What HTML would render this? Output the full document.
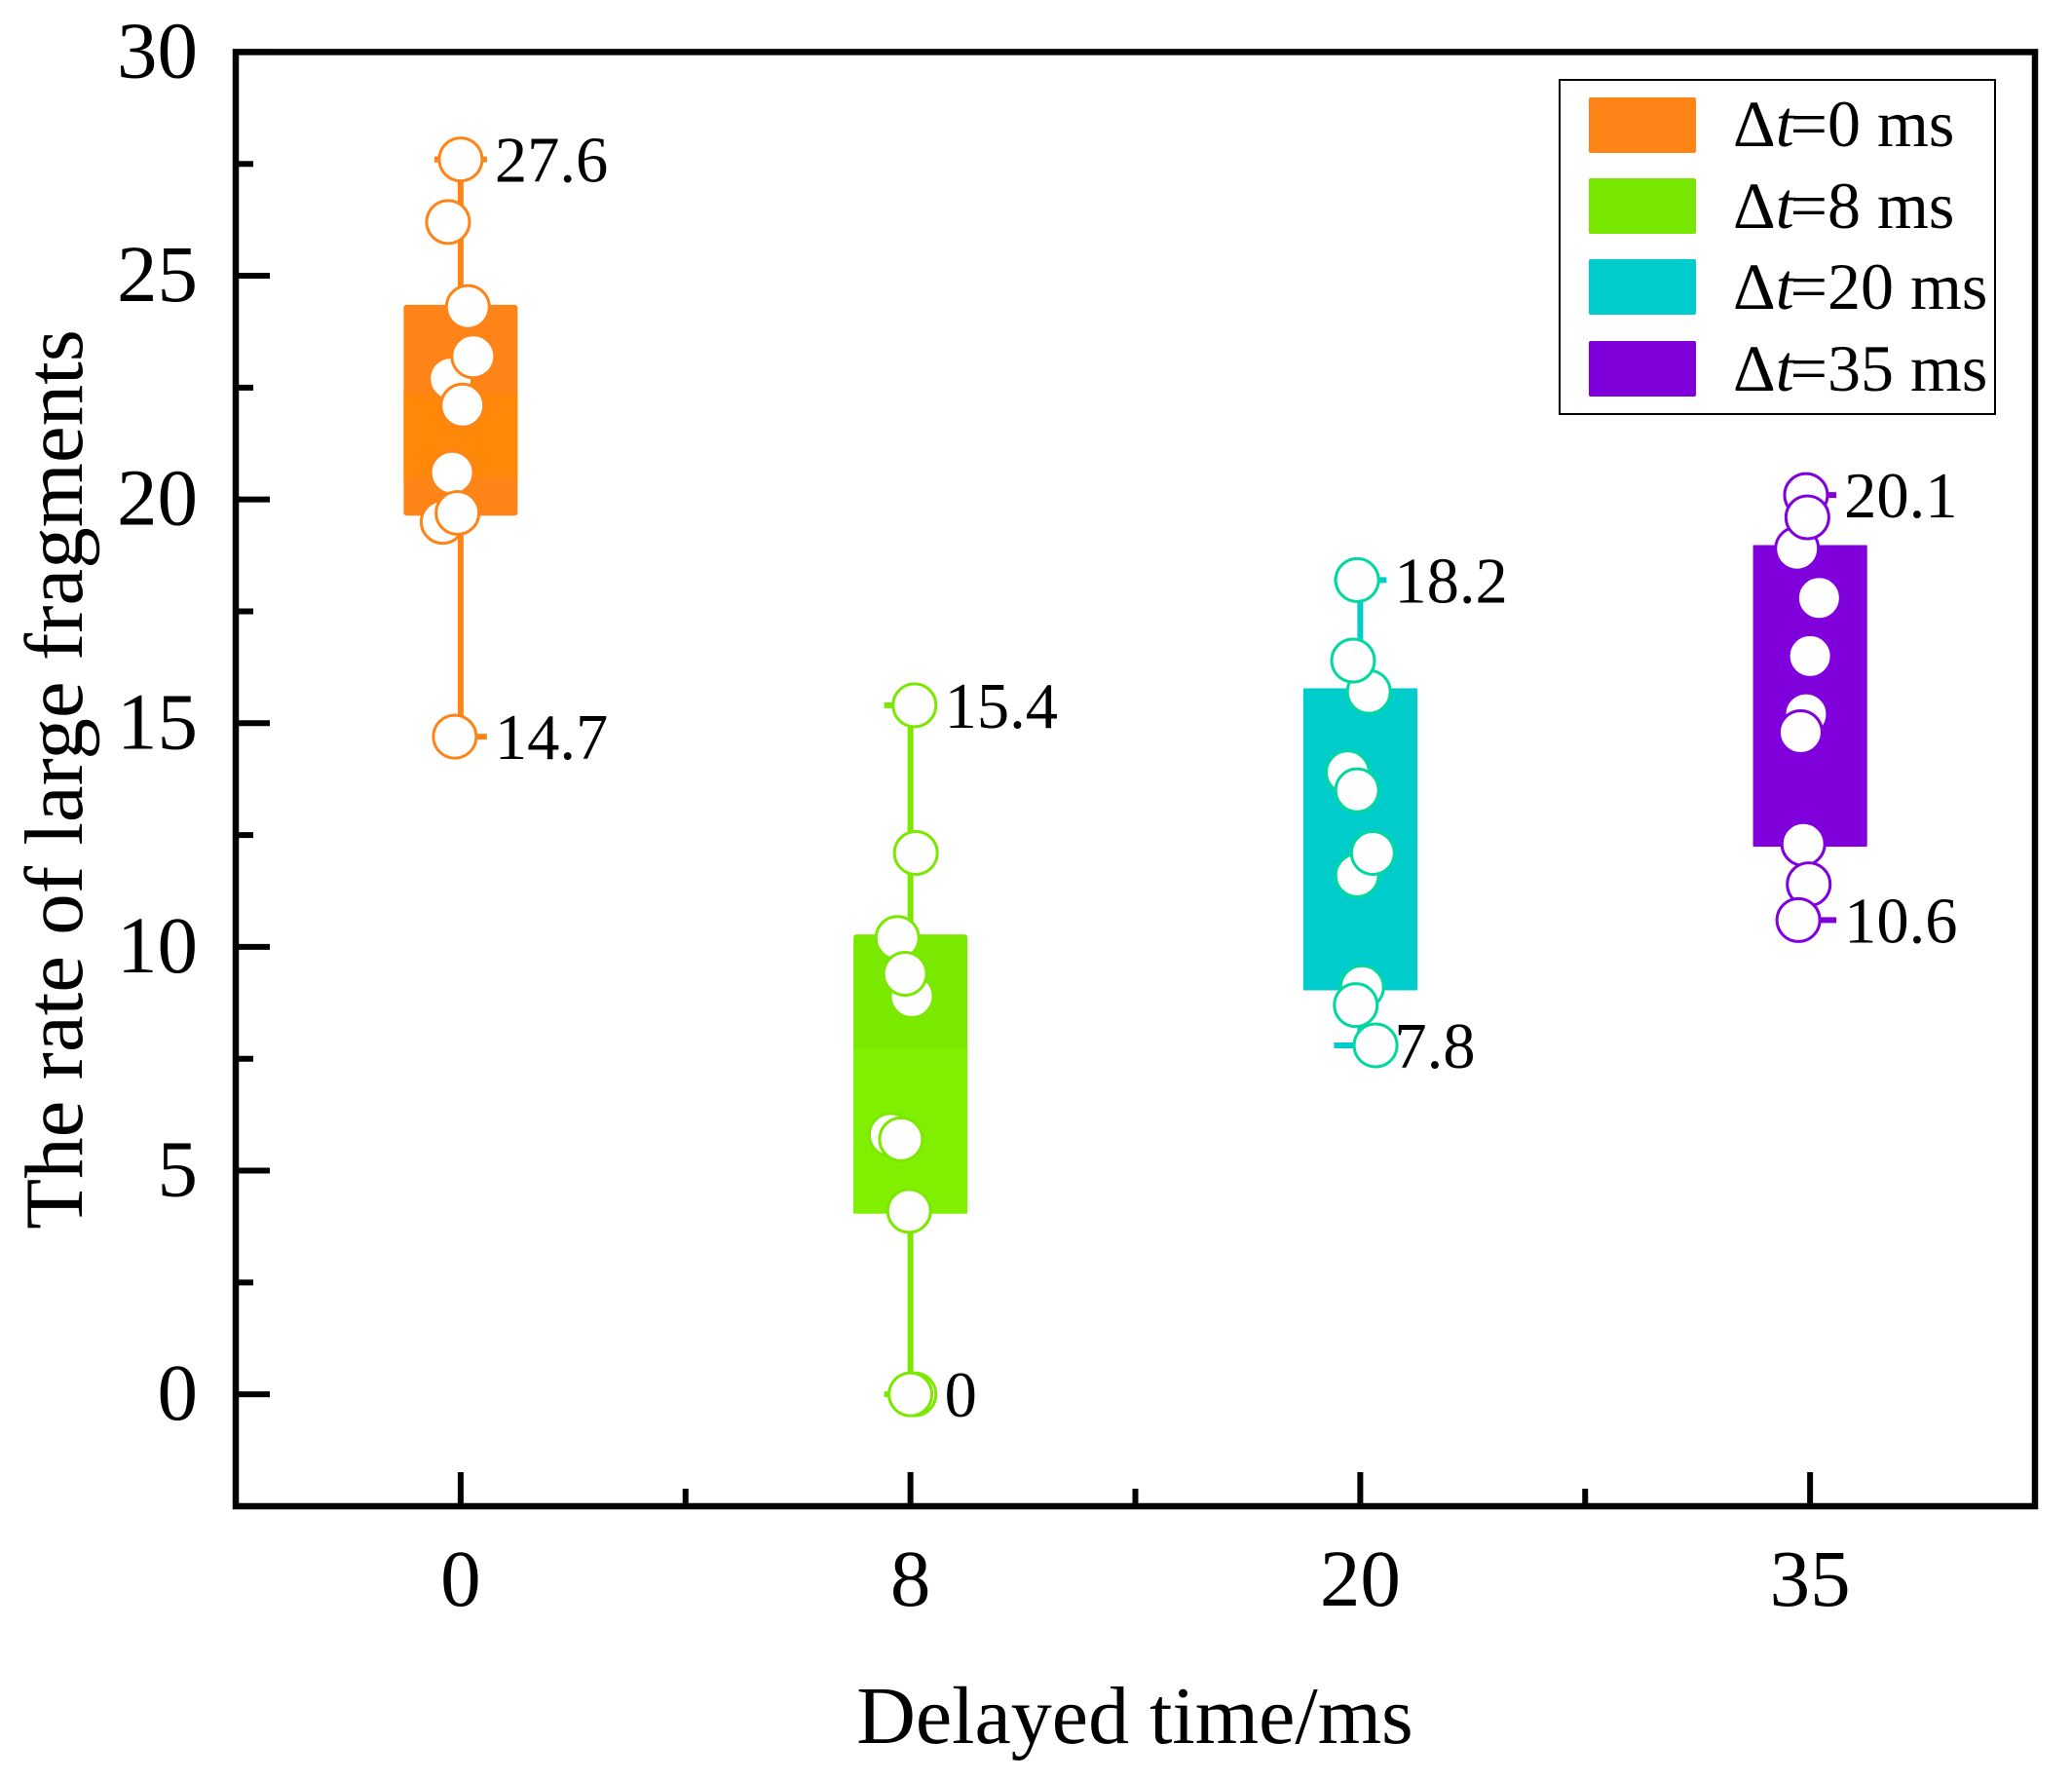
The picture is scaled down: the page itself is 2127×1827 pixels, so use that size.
<!DOCTYPE html>
<html lang="en">
<head>
<meta charset="utf-8">
<title>The rate of large fragments vs delayed time</title>
<style>
html,body{margin:0;padding:0;background:#fff;}
svg{display:block;font-family:"Liberation Serif",serif;fill:#000;}
</style>
</head>
<body>
<svg id="chart" xmlns="http://www.w3.org/2000/svg" width="2127" height="1827" viewBox="0 0 2127 1827">
  <rect x="0" y="0" width="2127" height="1827" fill="#fff"/>
  <g id="marks"></g>
  <g id="axes"></g>
  <text x="1165" y="1789" font-size="84" text-anchor="middle">Delayed time/ms</text>
  <text transform="translate(84 800) rotate(-90)" font-size="85" text-anchor="middle">The rate of large fragments</text>
  <g>
    <rect x="1601" y="82" width="447" height="343" fill="#fff" stroke="#000" stroke-width="2"/>
    <g>
      <rect x="1631" y="100" width="110" height="57" rx="2" fill="#ff8418"/>
      <text x="1779" y="150" font-size="68">Δ<tspan font-style="italic">t</tspan><tspan dx="-4">=0 ms</tspan></text>
    </g>
    <g>
      <rect x="1631" y="183" width="110" height="57" rx="2" fill="#78e800"/>
      <text x="1779" y="234" font-size="68">Δ<tspan font-style="italic">t</tspan><tspan dx="-4">=8 ms</tspan></text>
    </g>
    <g>
      <rect x="1631" y="266" width="110" height="57" rx="2" fill="#00cccc"/>
      <text x="1779" y="317" font-size="68">Δ<tspan font-style="italic">t</tspan><tspan dx="-4">=20 ms</tspan></text>
    </g>
    <g>
      <rect x="1631" y="350" width="110" height="57" rx="2" fill="#8000dc"/>
      <text x="1779" y="401" font-size="68">Δ<tspan font-style="italic">t</tspan><tspan dx="-4">=35 ms</tspan></text>
    </g>
  </g>
</svg>
<script>
// ---- data ----
const categories = ["0", "8", "20", "35"];
const yMajorTicks = [0, 5, 10, 15, 20, 25, 30];
const yMinorTicks = [2.5, 7.5, 12.5, 17.5, 22.5, 27.5];
const xMinorTicks = [0.5, 1.5, 2.5];

// point values for each group, in drawing order
const values0ms = [19.5, 26.2, 22.7, 20.6, 24.3, 23.2, 22.1, 19.7, 27.6, 14.7];
const values8ms = [15.4, 12.1, 10.2, 8.9, 9.4, 5.8, 5.7, 4.1, 0, 0];
const values20ms = [18.2, 15.7, 16.4, 13.9, 13.5, 11.6, 12.1, 9.1, 8.7, 7.8];
const values35ms = [20.1, 18.9, 19.6, 17.8, 16.5, 15.2, 14.8, 12.3, 11.4, 10.6];

// horizontal jitter of each point, in category units
const jitter0ms = [-0.04, -0.028, -0.022, -0.019, 0.016, 0.028, 0.004, -0.007, 0, -0.013];
const jitter8ms = [0.009, 0.012, -0.029, 0.003, -0.012, -0.044, -0.021, -0.003, 0.009, 0];
const jitter20ms = [-0.007, 0.019, -0.016, -0.028, -0.007, -0.007, 0.028, 0.004, -0.01, 0.034];
const jitter35ms = [-0.009, -0.029, -0.006, 0.02, 0, -0.009, -0.021, -0.015, -0.003, -0.026];

const boxLow = [19.64, 4.04, 9.03, 12.24];
const boxHigh = [24.35, 10.28, 15.78, 18.98];
const whiskerLow = [14.7, 0, 7.8, 10.6];
const whiskerHigh = [27.6, 15.4, 18.2, 20.1];
const bandLow = [20.5, 4.04, 9.03, 12.24];
const bandHigh = [22.35, 7.72, 15.78, 18.98];

// ---- styles ----
const boxColors = ["#ff8418", "#79e900", "#00cccc", "#8000dc"];
const bandColors = ["#ff8808", "#80f000", "#00cccc", "#8000dc"];
const lineColors = ["#ff8418", "#7ce800", "#00cccc", "#8000dc"];
const circleColors = ["#ff8418", "#7ce800", "#00d8a0", "#8000e0"];
const allValues = [values0ms, values8ms, values20ms, values35ms];
const allJitter = [jitter0ms, jitter8ms, jitter20ms, jitter35ms];

// ---- axis functions ----
const plotLeft = 242, plotRight = 2089, plotTop = 53.4, plotBottom = 1546;
function xScale(c) { return plotLeft + (c + 0.5) / 4 * (plotRight - plotLeft); }
function yScale(v) { return plotBottom - (v + 2.5) / 32.5 * (plotBottom - plotTop); }

const NS = "http://www.w3.org/2000/svg";
function make(tag, attrs, parent) {
  const el = document.createElementNS(NS, tag);
  for (const k in attrs) el.setAttribute(k, attrs[k]);
  parent.appendChild(el);
  return el;
}
const marks = document.getElementById("marks");
const axes = document.getElementById("axes");

categories.forEach(function (cat, i) {
  const cx = xScale(i);
  const group = make("g", {}, marks);
  
  

  const whisker = make("line", { x1: cx, x2: cx, y1: yScale(whiskerLow[i]), y2: yScale(whiskerHigh[i]), stroke: lineColors[i], "stroke-width": 6 }, group);
  
  

  [whiskerLow[i], whiskerHigh[i]].forEach(function (v) {
    const cap = make("line", { x1: cx - 27, x2: cx + 27, y1: yScale(v), y2: yScale(v), stroke: lineColors[i], "stroke-width": 6 }, group);
    
    
  });

  const box = make("rect", { x: cx - 58.5, width: 117, y: yScale(boxHigh[i]), height: yScale(boxLow[i]) - yScale(boxHigh[i]), rx: 3, fill: boxColors[i] }, group);
  
  

  const band = make("rect", { x: cx - 58.5, width: 117, y: yScale(bandHigh[i]), height: yScale(bandLow[i]) - yScale(bandHigh[i]), fill: bandColors[i] }, group);
  
  

  allValues[i].forEach(function (v, j) {
    const dot = make("circle", { cx: xScale(i + allJitter[i][j]), cy: yScale(v), r: 22, fill: "#fff", stroke: circleColors[i], "stroke-width": 3 }, group);
    
    
  });

  [whiskerHigh[i], whiskerLow[i]].forEach(function (v) {
    const label = make("text", { x: cx + 35, y: yScale(v) + 23, "font-size": 66.5 }, group);
    label.textContent = String(v);
    
    
  });
});

// y ticks
yMajorTicks.forEach(function (v) {
  const tick = make("line", { x1: plotLeft, x2: plotLeft + 35, y1: yScale(v), y2: yScale(v), stroke: "#000", "stroke-width": 6 }, axes);
  
  
  const label = make("text", { x: 203, y: yScale(v) + 26, "font-size": 83, "text-anchor": "end" }, axes);
  label.textContent = String(v);
  
  
});
yMinorTicks.forEach(function (v) {
  const tick = make("line", { x1: plotLeft, x2: plotLeft + 18, y1: yScale(v), y2: yScale(v), stroke: "#000", "stroke-width": 6 }, axes);
  
  
});

// x ticks
categories.forEach(function (cat, i) {
  const x = xScale(i);
  const tick = make("line", { x1: x, x2: x, y1: plotBottom, y2: plotBottom - 35, stroke: "#000", "stroke-width": 6 }, axes);
  
  
  const label = make("text", { x: x, y: 1648, "font-size": 83, "text-anchor": "middle" }, axes);
  label.textContent = cat;
  
  
});
xMinorTicks.forEach(function (c) {
  const x = xScale(c);
  const tick = make("line", { x1: x, x2: x, y1: plotBottom, y2: plotBottom - 18, stroke: "#000", "stroke-width": 6 }, axes);
  
  
});

const frame = make("rect", { x: plotLeft, y: plotTop, width: plotRight - plotLeft, height: plotBottom - plotTop, fill: "none", stroke: "#000", "stroke-width": 6.5 }, axes);


</script>
</body>
</html>
